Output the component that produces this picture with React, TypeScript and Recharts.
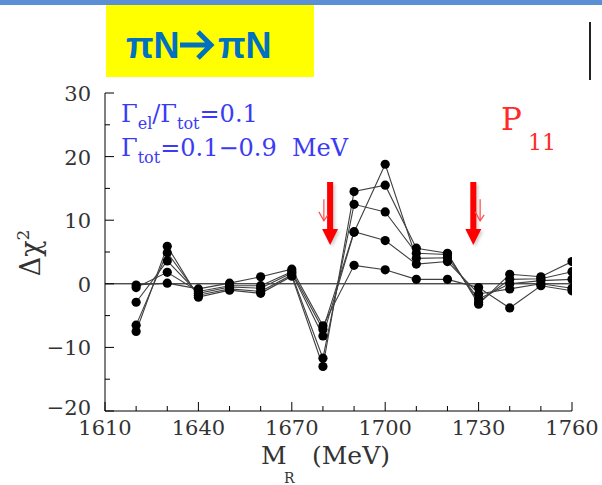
import React from 'react';
import { LineChart, Line, XAxis, YAxis, ReferenceLine } from 'recharts';

// resonance mass scan (MeV) and the five Gamma_tot curves
const masses = [1620, 1630, 1640, 1650, 1660, 1670, 1680, 1690, 1700, 1710, 1720, 1730, 1740, 1750, 1760];
const gammaA = [-0.2, 0.1, -0.8, 0.1, 1.1, 2.3, -6.6, 2.9, 2.2, 0.7, 0.7, -0.6, -3.8, -0.3, -1.1];
const gammaB = [-0.6, 1.8, -1.2, -0.3, -0.3, 1.9, -7.2, 8.2, 6.8, 3.1, 3.5, -1.6, -0.8, 0.0, -0.7];
const gammaC = [-2.9, 3.6, -1.5, -0.5, -0.7, 1.7, -8.2, 8.1, 18.8, 4.0, 4.1, -2.4, 0.0, 0.5, 0.7];
const gammaD = [-6.5, 4.9, -1.8, -0.8, -1.2, 1.4, -11.7, 12.5, 11.3, 4.8, 4.6, -2.9, 0.7, 0.8, 1.9];
const gammaE = [-7.5, 5.9, -2.1, -1.0, -1.5, 1.2, -13.0, 14.5, 15.5, 5.6, 4.8, -3.2, 1.5, 1.1, 3.5];

const xTicks = [1610, 1620, 1630, 1640, 1650, 1660, 1670, 1680, 1690, 1700, 1710, 1720, 1730, 1740, 1750, 1760];
const xLabels = [1610, 1640, 1670, 1700, 1730, 1760];
const yTicks = [-20, -15, -10, -5, 0, 5, 10, 15, 20, 25, 30];
const yLabels = [-20, -10, 0, 10, 20, 30];

// arrows marking the resonance positions
const bigArrows = [
  { x: 1682.3, top: 16, tip: 6.1 },
  { x: 1728.3, top: 16, tip: 6.1 },
];
const smallArrows = [
  { x: 1680.3, top: 13.3, tip: 9.9 },
  { x: 1730.5, top: 13.3, tip: 9.9 },
];

const series = [gammaA, gammaB, gammaC, gammaD, gammaE];
const data = masses.map((m, i) => {
  const row: Record<string, number> = { m };
  series.forEach((s, k) => (row[`s${k}`] = s[i]));
  return row;
});

const serif = 'DejaVu Serif';
const fmt = (v: number) => (v < 0 ? `\u2212${Math.abs(v)}` : `${v}`);

const BottomTick = (props: any) => {
  const { x, y, payload } = props;
  const major = xLabels.includes(payload.value);
  return (
    <g>
      <line x1={x} x2={x} y1={y} y2={y - (major ? 9 : 5)} stroke="#000" strokeWidth={1} />
      {major && (
        <text x={x} y={y + 24} textAnchor="middle" fontFamily={serif} fontSize={21} fill="#333">
          {payload.value}
        </text>
      )}
    </g>
  );
};

const TopTick = (props: any) => {
  const { x, y, payload } = props;
  const major = xLabels.includes(payload.value);
  return <line x1={x} x2={x} y1={y} y2={y + (major ? 9 : 5)} stroke="#000" strokeWidth={1} />;
};

const LeftTick = (props: any) => {
  const { x, y, payload } = props;
  const major = yLabels.includes(payload.value);
  // the lowest label sits a little higher so it clears the 1610 label
  const dy = payload.value === -20 ? 4 : 8;
  return (
    <g>
      <line x1={x} x2={x + (major ? 9 : 5)} y1={y} y2={y} stroke="#000" strokeWidth={1} />
      {major && (
        <text x={x - 14} y={y + dy} textAnchor="end" fontFamily={serif} fontSize={21} fill="#333">
          {fmt(payload.value)}
        </text>
      )}
    </g>
  );
};

const RightTick = (props: any) => {
  const { x, y, payload } = props;
  const major = yLabels.includes(payload.value);
  return <line x1={x} x2={x - (major ? 9 : 5)} y1={y} y2={y} stroke="#000" strokeWidth={1} />;
};

const BigArrow = (props: any) => {
  const { x1, y1, y2 } = props;
  const top = Math.min(y1, y2);
  const tip = Math.max(y1, y2);
  const x = x1;
  const pts = [
    [x - 3, top], [x + 3, top], [x + 3, tip - 16], [x + 8, tip - 16],
    [x, tip], [x - 8, tip - 16], [x - 3, tip - 16],
  ].map((p) => p.join(',')).join(' ');
  return (
    <g>
      <polygon points={pts} fill="#000" opacity={0.18} transform="translate(2,2)" style={{ filter: 'blur(1.5px)' }} />
      <polygon points={pts} fill="#ff0000" />
    </g>
  );
};

const SmallArrow = (props: any) => {
  const { x1, y1, y2 } = props;
  const top = Math.min(y1, y2);
  const tip = Math.max(y1, y2);
  const x = x1;
  return (
    <g stroke="#ff4a4a" strokeWidth={1.2} fill="none">
      <line x1={x} x2={x} y1={top} y2={tip} />
      <polyline points={`${x - 5},${tip - 9} ${x},${tip} ${x + 4},${tip - 6}`} />
    </g>
  );
};

export default function App() {
  return (
    <div style={{ position: 'absolute', left: 0, top: 0, width: 602, height: 485, background: '#fff' }}>
      <LineChart width={602} height={485} data={data} margin={{ top: 93, right: 30, bottom: 0, left: 0 }}>
        <XAxis
          dataKey="m"
          type="number"
          domain={[1610, 1760]}
          ticks={xTicks}
          interval={0}
          height={74}
          tickSize={0}
          tickMargin={0}
          tickLine={false}
          tick={<BottomTick />}
          axisLine={{ stroke: '#000', strokeWidth: 1 }}
          allowDataOverflow
        />
        <XAxis
          xAxisId="top"
          orientation="top"
          mirror
          dataKey="m"
          type="number"
          domain={[1610, 1760]}
          ticks={xTicks}
          interval={0}
          height={0}
          tickSize={0}
          tickMargin={0}
          tickLine={false}
          tick={<TopTick />}
          axisLine={{ stroke: '#000', strokeWidth: 1 }}
        />
        <YAxis
          type="number"
          domain={[-20, 30]}
          ticks={yTicks}
          interval={0}
          width={105}
          tickSize={0}
          tickMargin={0}
          tickLine={false}
          tick={<LeftTick />}
          axisLine={{ stroke: '#000', strokeWidth: 1 }}
          allowDataOverflow
        />
        <YAxis
          yAxisId="right"
          orientation="right"
          mirror
          type="number"
          domain={[-20, 30]}
          ticks={yTicks}
          interval={0}
          width={0}
          tickSize={0}
          tickMargin={0}
          tickLine={false}
          tick={<RightTick />}
          axisLine={{ stroke: '#000', strokeWidth: 1 }}
        />
        <ReferenceLine y={0} stroke="#000" strokeWidth={1} />
        {series.map((_, k) => (
          <Line
            key={k}
            dataKey={`s${k}`}
            type="linear"
            stroke="#404040"
            strokeWidth={1.1}
            dot={{ r: 4.6, fill: '#000', stroke: '#000', strokeWidth: 0 }}
            activeDot={false}
            isAnimationActive={false}
          />
        ))}
        {bigArrows.map((a, i) => (
          <ReferenceLine
            key={`b${i}`}
            segment={[{ x: a.x, y: a.top }, { x: a.x, y: a.tip }]}
            shape={<BigArrow />}
          />
        ))}
        {smallArrows.map((a, i) => (
          <ReferenceLine
            key={`s${i}`}
            segment={[{ x: a.x, y: a.top }, { x: a.x, y: a.tip }]}
            shape={<SmallArrow />}
          />
        ))}
      </LineChart>

      <svg width={602} height={485} style={{ position: 'absolute', left: 0, top: 0, pointerEvents: 'none' }}>
        <rect x={0} y={0} width={602} height={5} fill="#5a8fd6" />
        <rect x={106} y={5} width={208} height={72} fill="#ffff00" />
        <g fontFamily="Liberation Sans" fontWeight="bold" fontSize={36} fill="#0070c0">
          <text x={126} y={58}>πN</text>
          <path d="M180,45 H209 M198,32 L211,45 L198,58" stroke="#0070c0" strokeWidth={5} fill="none" />
          <text x={218} y={58}>πN</text>
        </g>
        <line x1={590} x2={590} y1={22} y2={80} stroke="#222" strokeWidth={2} />

        <text fontFamily={serif} fontSize={24} fill="#3b3bf5">
          <tspan x={121} y={122}>Γ</tspan>
          <tspan fontSize={16} dy={7}>el</tspan>
          <tspan dy={-7}>/Γ</tspan>
          <tspan fontSize={16} dy={7}>tot</tspan>
          <tspan dy={-7}>=0.1</tspan>
        </text>
        <text fontFamily={serif} fontSize={24} fill="#3b3bf5">
          <tspan x={121} y={156}>Γ</tspan>
          <tspan fontSize={16} dy={7}>tot</tspan>
          <tspan dy={-7}>=0.1−0.9</tspan>
          <tspan x={292} y={156}>MeV</tspan>
        </text>

        <text fontFamily={serif} fill="#ff2a2a">
          <tspan x={501} y={130} fontSize={31}>P</tspan>
          <tspan x={528} y={150} fontSize={22}>11</tspan>
        </text>

        <text
          transform="translate(40,253) rotate(-90)"
          textAnchor="middle"
          fontFamily={serif}
          fontSize={27}
          fill="#333"
        >
          Δχ<tspan fontSize={17} dy={-11}>2</tspan>
        </text>

        <text fontFamily={serif} fontSize={25} fill="#333">
          <tspan x={261} y={464}>M</tspan>
          <tspan x={284} y={483} fontSize={14}>R</tspan>
          <tspan x={312} y={464}>(MeV)</tspan>
        </text>
      </svg>
    </div>
  );
}
